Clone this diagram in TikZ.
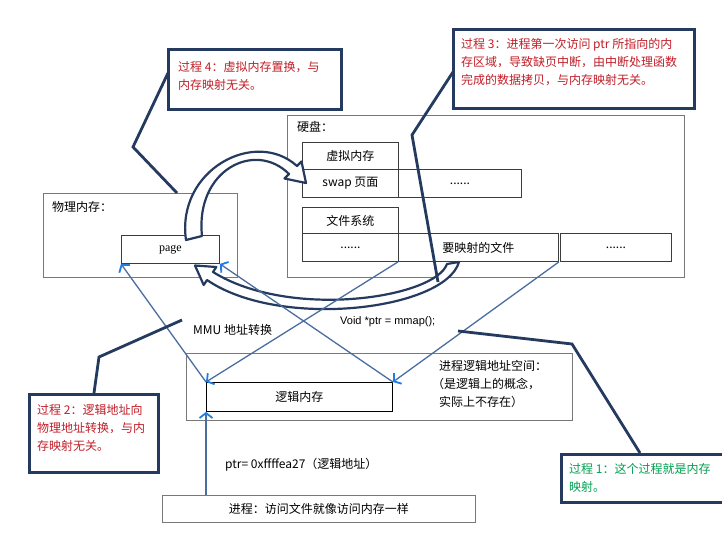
\documentclass[tikz,border=0pt]{standalone}
\usepackage{fontspec}
\setmainfont{Noto Sans CJK SC}
\newfontfamily\serifpage{Liberation Serif}
\newfontfamily\latinsans{Liberation Sans}
\usetikzlibrary{arrows.meta,calc}

\definecolor{navy}{RGB}{36,58,94}
\definecolor{notered}{RGB}{192,30,40}
\definecolor{notegreen}{RGB}{0,160,80}
\definecolor{linkblue}{RGB}{74,110,160}
\definecolor{tipblue}{RGB}{30,125,235}
\definecolor{framegray}{RGB}{120,120,120}
\definecolor{cellgray}{RGB}{60,60,60}

\tikzset{
  txt/.style={font=\fontsize{12}{18}\selectfont, inner sep=0pt},
  frame/.style={draw=framegray, line width=0.9pt, inner sep=0pt, anchor=north west},
  cell/.style={draw=cellgray, line width=0.9pt, inner sep=0pt, anchor=north west,
    font=\fontsize{12}{18}\selectfont},
  callout/.style={draw=navy, line width=2.6pt, fill=white, inner sep=0pt, anchor=north west},
  pointer/.style={draw=navy, line width=2.8pt, line join=miter},
  notetext/.style={txt, align=left, anchor=north west},
  link/.style={draw=linkblue, line width=1.3pt,
    -{Straight Barb[length=5pt,width=13pt,line width=1.8pt,color=tipblue]}},
  bigarrow/.style={draw=navy, line width=2.2pt, fill=white, line join=round}
}

\begin{document}
\begin{tikzpicture}[x=1pt,y=-1pt]
\useasboundingbox (0,0) rectangle (722,534);
\clip (0,0) rectangle (722,534);
\fill[white] (0,0) rectangle (722,534);

% ---------- physical memory ----------
\node[frame, minimum width=194, minimum height=84] (phys) at (43,193) {};
\node[txt, anchor=north west] (physlabel) at (52,201) {物理内存：};
\node[cell, minimum width=98, minimum height=28] (page) at (121,235) {\serifpage page};

% ---------- hard disk ----------
\node[frame, minimum width=397, minimum height=162] (disk) at (287,115) {};
\node[txt, anchor=north west] (disklabel) at (297,121) {硬盘：};
\node[cell, minimum width=96, minimum height=27] (vm) at (302,142) {虚拟内存};
\node[cell, minimum width=96, minimum height=28] (swap) at (302,169) {swap 页面};
\node[cell, minimum width=123, minimum height=28] (swapdots) at (398,169) {......};
\node[cell, minimum width=96, minimum height=26] (fs) at (302,207) {文件系统};
\node[cell, minimum width=96, minimum height=28] (fsdots) at (302,233) {......};
\node[cell, minimum width=160, minimum height=28] (file) at (398,233) {要映射的文件};
\node[cell, minimum width=111, minimum height=28] (filedots) at (560,233) {......};

% ---------- process logical address space ----------
\node[frame, minimum width=386, minimum height=67] (space) at (186,353) {};
\node[cell, draw=black, minimum width=186, minimum height=29] (logic) at (206,382) {逻辑内存};
\node[notetext] (spacetext) at (439,360)
  {进程逻辑地址空间：\\\hspace*{-7pt}（是逻辑上的概念，\\实际上不存在）};

% ---------- process ----------
\node[cell, draw=framegray, minimum width=313, minimum height=27] (proc) at (162,495)
  {进程：访问文件就像访问内存一样};

% ---------- free labels ----------
\node[txt, anchor=west] (mmu) at (193,330) {MMU 地址转换};
\node[txt, anchor=west, font=\latinsans\fontsize{11}{13}\selectfont] (mmapcall) at (340,322)
  {Void *ptr = mmap();};
\node[txt, anchor=west] (ptrval) at (225,465) {ptr= 0xffffea27（逻辑地址）};

% ---------- page swapped out to swap area ----------
\path[bigarrow]
  (186,240) .. controls (176,170) and (255,128) .. (297,166)
  -- (301.5,161.5) -- (306,183) -- (284.5,178.5) -- (289,174)
  .. controls (255,140) and (195,170) .. (202,236) -- cycle;

% ---------- file data copied into page ----------
\path[bigarrow]
  (459,262) .. controls (445,310) and (280,330) .. (207,280)
  -- (203.7,285) -- (195,265.5) -- (216.3,267) -- (213,272)
  .. controls (290,320) and (435,298) .. (447,264) -- cycle;

% ---------- address mapping links ----------
\draw[link] (proc.north west -| logic.south west) -- (logic.south west);
\draw[link] (logic.north west) -- (page.south west);
\draw[link] (logic.north east) -- (page.south east);
\draw[link] (file.south west) -- (logic.north west);
\draw[link] (file.south east) -- (logic.north east);

% ---------- callouts ----------
\coordinate (k4) at (133,147);
\coordinate (k3) at (412,135);
\coordinate (e3) at (438,282);
\coordinate (k2) at (99,357);
\coordinate (e2) at (182,320);
\coordinate (s1) at (458,331);
\coordinate (k1) at (572,344);

\draw[pointer] (168,73) -- (k4) -- ($(phys.north west)+(134,0)$);
\draw[pointer] (453,72) -- (k3) -- (e3);
\draw[pointer] (94,393) -- (k2) -- (e2);
\draw[pointer] (s1) -- (k1) -- (640,453);

\node[callout, minimum width=173, minimum height=60] (c4) at (167,48) {};
\node[notetext, text=notered] (c4text) at (178,61)
  {过程 4：虚拟内存置换，与\\内存映射无关。};

\node[callout, minimum width=241, minimum height=79] (c3) at (452,28) {};
\node[notetext, text=notered] (c3text) at (461,38)
  {过程 3：进程第一次访问 ptr 所指向的内\\存区域，导致缺页中断，由中断处理函数\\完成的数据拷贝，与内存映射无关。};

\node[callout, minimum width=129, minimum height=78] (c2) at (28,393) {};
\node[notetext, text=notered] (c2text) at (37,404)
  {过程 2：逻辑地址向\\物理地址转换，与内\\存映射无关。};

\node[callout, minimum width=180, minimum height=48] (c1) at (560,453) {};
\node[notetext, text=notegreen] (c1text) at (569,463)
  {过程 1：这个过程就是内存\\映射。};
\end{tikzpicture}
\end{document}
